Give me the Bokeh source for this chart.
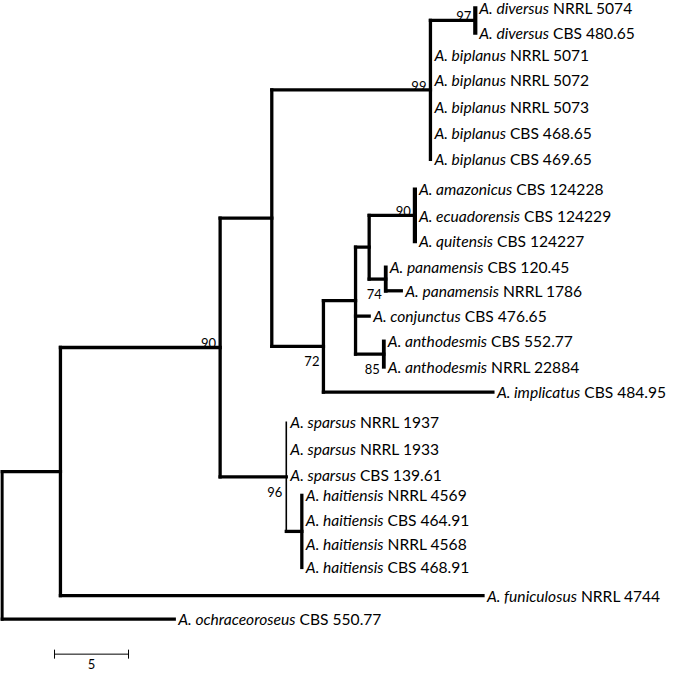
import glob
import os
import subprocess

from bokeh.plotting import figure
from bokeh.models import ColumnDataSource, Range1d
from bokeh.core.properties import value
from bokeh.embed import file_html
from bokeh.resources import INLINE

species = ["A. diversus", "A. diversus", "A. biplanus", "A. biplanus", "A. biplanus",
           "A. biplanus", "A. biplanus", "A. amazonicus", "A. ecuadorensis", "A. quitensis",
           "A. panamensis", "A. panamensis", "A. conjunctus", "A. anthodesmis",
           "A. anthodesmis", "A. implicatus", "A. sparsus", "A. sparsus", "A. sparsus",
           "A. haitiensis", "A. haitiensis", "A. haitiensis", "A. haitiensis",
           "A. funiculosus", "A. ochraceoroseus"]
strains = ["NRRL 5074", "CBS 480.65", "NRRL 5071", "NRRL 5072", "NRRL 5073",
           "CBS 468.65", "CBS 469.65", "CBS 124228", "CBS 124229", "CBS 124227",
           "CBS 120.45", "NRRL 1786", "CBS 476.65", "CBS 552.77",
           "NRRL 22884", "CBS 484.95", "NRRL 1937", "NRRL 1933", "CBS 139.61",
           "NRRL 4569", "CBS 464.91", "NRRL 4568", "CBS 468.91",
           "NRRL 4744", "CBS 550.77"]
leaf_parent = ["M", "M", "L", "L", "L", "L", "L", "J", "J", "J", "K", "K", "G",
               "I", "I", "F", "D", "D", "D", "E", "E", "E", "E", "A", "R"]
leaf_length = [0, 0, 0, 0, 0, 0, 0, 0, 0, 0, 0, 1.05, 0.92, 0, 0, 11.45,
               0, 0, 0, 0, 0, 0, 0, 28.55, 11.64]
leaf_row = [8, 33, 56, 82, 109, 136, 163, 194, 221, 247, 274, 298, 324, 350, 376,
            402, 433, 460, 487, 508, 533, 558, 582, 611, 635]

node_id = ["R", "A", "B", "C", "L", "M", "F", "G", "H", "J", "K", "I", "D", "E"]
node_parent = [None, "R", "A", "B", "C", "L", "C", "F", "G", "H", "H", "G", "B", "D"]
node_length = [0, 3.95, 10.79, 3.49, 10.72, 3.03, 3.49, 2.17, 0.92, 3.09, 1.12,
               1.91, 4.47, 1.05]
node_support = [None, None, 90, None, 99, 97, 72, None, None, 90, 74, 85, 96, None]

scale_length = 5
scale_label = "5"

# ---------------- styles ----------------
W, H = 669, 678
PX_PER_UNIT = 14.8
X_START = -0.1
Y_TOP, Y_BOTTOM = 0, 696
KY = H / (Y_BOTTOM - Y_TOP)          # px per row unit
LINE_W = 3.3
vertical_width = {"M": 4.2, "J": 4.2, "K": 3.8, "I": 3.8, "E": 3.3, "D": 1.6}
support_side = {"B": "above", "L": "above", "M": "above", "J": "above",
                "K": "below", "F": "below", "I": "below", "D": "below"}
FONT = "Lato"
SUPPORT_SIZE = "13px"
SCALE_START = 3.55
SCALE_ROW = 671
TARGET_W = 155.0   # width of "A. biplanus NRRL 5071" in the reference


# ---------------- font measuring ----------------
def find_font(names, fc_query):
    roots = ["/usr/share/fonts", "/usr/local/share/fonts",
             os.path.expanduser("~/.fonts"), os.path.expanduser("~/.local/share/fonts")]
    for n in names:
        for r in roots:
            hits = glob.glob(os.path.join(r, "**", n), recursive=True)
            if hits:
                return sorted(hits)[0]
    try:
        out = subprocess.run(["fc-match", "-f", "%{file}", fc_query],
                             capture_output=True, text=True, timeout=5).stdout.strip()
        if out and os.path.exists(out):
            return out
    except Exception:
        pass
    return None


italic_path = find_font(["Lato-Italic.ttf", "Lato-Italic.otf"], "Lato:style=Italic")
regular_path = find_font(["Lato-Regular.ttf", "Lato-Regular.otf"], "Lato:style=Regular")

try:
    from PIL import ImageFont
    _fi = ImageFont.truetype(italic_path or regular_path, 100)
    _fr = ImageFont.truetype(regular_path or italic_path, 100)

    def w_it(t, s):
        return _fi.getlength(t) * s / 100.0

    def w_rm(t, s):
        return _fr.getlength(t) * s / 100.0
except Exception:
    def w_it(t, s):
        return len(t) * 0.5 * s

    def w_rm(t, s):
        return len(t) * 0.5 * s

ref_w = w_it("A. biplanus", 100) + w_rm(" NRRL 5071", 100)
TAXON_SIZE = round(100 * TARGET_W / ref_w, 1) if ref_w > 0 else 15.0

# ---------------- tree layout ----------------
depth = {}
for nid, par, ln in zip(node_id, node_parent, node_length):
    depth[nid] = 0.0 if par is None else depth[par] + ln

children = {nid: [] for nid in node_id}
for i, par in enumerate(leaf_parent):
    children[par].append(("leaf", i))
for nid, par in zip(node_id, node_parent):
    if par is not None:
        children[par].append(("node", nid))

node_y = {}


def get_y(kind, key):
    if kind == "leaf":
        return leaf_row[key]
    if key in node_y:
        return node_y[key]
    ys = [get_y(k, c) for k, c in children[key]]
    node_y[key] = (min(ys) + max(ys)) / 2.0
    return node_y[key]


for nid in node_id:
    get_y("node", nid)

leaf_x = [depth[p] + ln for p, ln in zip(leaf_parent, leaf_length)]

seg = dict(x0=[], y0=[], x1=[], y1=[], w=[])
for nid in node_id:
    ys = [get_y(k, c) for k, c in children[nid]]
    seg["x0"].append(depth[nid]); seg["x1"].append(depth[nid])
    seg["y0"].append(min(ys)); seg["y1"].append(max(ys))
    seg["w"].append(vertical_width.get(nid, LINE_W))
for nid, par, ln in zip(node_id, node_parent, node_length):
    if par is not None and ln > 0:
        seg["x0"].append(depth[par]); seg["x1"].append(depth[nid])
        seg["y0"].append(node_y[nid]); seg["y1"].append(node_y[nid])
        seg["w"].append(LINE_W)
for i, (par, ln) in enumerate(zip(leaf_parent, leaf_length)):
    if ln > 0:
        seg["x0"].append(depth[par]); seg["x1"].append(leaf_x[i])
        seg["y0"].append(leaf_row[i]); seg["y1"].append(leaf_row[i])
        seg["w"].append(LINE_W)

# ---------------- figure ----------------
p = figure(width=W, height=H, output_backend="svg", toolbar_location=None,
           x_range=Range1d(X_START, X_START + W / PX_PER_UNIT),
           y_range=Range1d(Y_BOTTOM, Y_TOP),
           x_axis_location=None, y_axis_location=None, min_border=0)
p.grid.visible = False
p.outline_line_color = None
p.background_fill_color = "white"
p.border_fill_color = "white"

p.segment(x0="x0", y0="y0", x1="x1", y1="y1", line_width="w", line_color="black",
          line_cap="square", source=ColumnDataSource(seg))

# taxon labels: italic species + roman strain
gap = 4
sp_src = ColumnDataSource(dict(x=leaf_x, y=leaf_row, t=species,
                               xo=[gap] * len(species)))
st_src = ColumnDataSource(dict(x=leaf_x, y=leaf_row, t=strains,
                               xo=[gap + w_it(s, TAXON_SIZE) + w_rm(" ", TAXON_SIZE)
                                   for s in species]))
p.text(x="x", y="y", text="t", x_offset="xo", source=sp_src,
       text_font=value(FONT), text_font_style="italic",
       text_font_size=f"{TAXON_SIZE}px", text_baseline="middle", text_align="left",
       text_color="black")
p.text(x="x", y="y", text="t", x_offset="xo", source=st_src,
       text_font=value(FONT), text_font_style="normal",
       text_font_size=f"{TAXON_SIZE}px", text_baseline="middle", text_align="left",
       text_color="black")

# bootstrap support values
sx, sy, stx = [], [], []
for nid, sup in zip(node_id, node_support):
    if sup is None:
        continue
    sx.append(depth[nid])
    if support_side[nid] == "above":
        sy.append(node_y[nid] - 4 / KY)
    else:
        sy.append(node_y[nid] + 15 / KY)
    stx.append(str(sup))
p.text(x="x", y="y", text="t", source=ColumnDataSource(dict(x=sx, y=sy, t=stx)),
       x_offset=-4, text_font=value(FONT), text_font_size=SUPPORT_SIZE,
       text_align="right", text_baseline="alphabetic", text_color="black")

# scale bar
tick = 4.5 / KY
p.segment(x0=[SCALE_START, SCALE_START, SCALE_START + scale_length],
          y0=[SCALE_ROW, SCALE_ROW - tick, SCALE_ROW - tick],
          x1=[SCALE_START + scale_length, SCALE_START, SCALE_START + scale_length],
          y1=[SCALE_ROW, SCALE_ROW + tick, SCALE_ROW + tick],
          line_width=1, line_color="black")
p.text(x=[SCALE_START + scale_length / 2], y=[SCALE_ROW + 10 / KY], text=[scale_label],
       text_font=value(FONT), text_font_size=SUPPORT_SIZE, text_align="center",
       text_baseline="middle", text_color="black")

open("out.html", "w").write(file_html(p, INLINE))
